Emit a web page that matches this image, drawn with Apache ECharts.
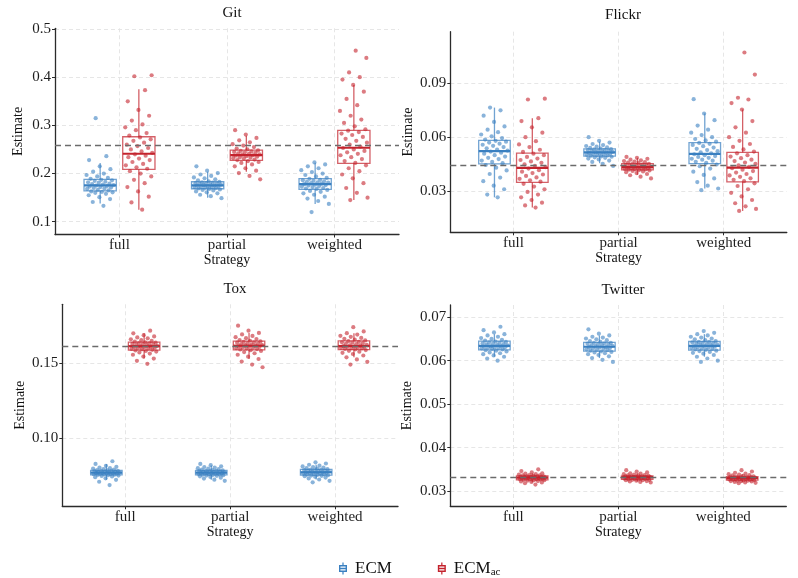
<!DOCTYPE html>
<html>
<head>
<meta charset="utf-8">
<title>ECM estimates by strategy</title>
<script src="https://cdn.jsdelivr.net/npm/echarts@6.0.0/dist/echarts.min.js"></script>
<style>
  html, body { margin: 0; padding: 0; background: #fff; }
  #chart { width: 798px; height: 578px; }
</style>
</head>
<body>
<div id="chart"></div>
<script>
// ---- data ----
const strategies = ["full", "partial", "weighted"];
const refLines = [0.2585, 0.0442, 0.1613, 0.0331]; // Git, Flickr, Tox, Twitter

const gitTicks = [0.1, 0.2, 0.3, 0.4, 0.5];
const flickrTicks = [0.03, 0.06, 0.09];
const toxTicks = [0.1, 0.15];
const twitterTicks = [0.03, 0.04, 0.05, 0.06, 0.07];

// box stats: [lower whisker, Q1, median, Q3, upper whisker] per strategy
const gitEcmBox = [[0.138, 0.164, 0.1755, 0.188, 0.222], [0.150, 0.1685, 0.1755, 0.183, 0.204], [0.137, 0.1672, 0.1782, 0.1893, 0.2225]];
const gitAcBox = [[0.125, 0.2088, 0.2411, 0.2764, 0.375], [0.204, 0.2274, 0.2384, 0.2488, 0.2785], [0.145, 0.2212, 0.2536, 0.2897, 0.384]];
const flickrEcmBox = [[0.0265, 0.0451, 0.0522, 0.0582, 0.0765], [0.0455, 0.0494, 0.0515, 0.0535, 0.0575], [0.0314, 0.0453, 0.0507, 0.057, 0.0732]];
const flickrAcBox = [[0.0208, 0.0348, 0.0429, 0.0511, 0.0706], [0.0390, 0.0418, 0.0433, 0.0453, 0.0485], [0.0189, 0.0351, 0.0431, 0.0515, 0.0754]];
const toxEcmBox = [[0.0725, 0.0758, 0.0772, 0.0788, 0.0830], [0.0725, 0.0758, 0.0772, 0.0788, 0.0820], [0.0727, 0.0756, 0.0775, 0.0794, 0.0825]];
const toxAcBox = [[0.1530, 0.1586, 0.1612, 0.1639, 0.1697], [0.1527, 0.1588, 0.1615, 0.1645, 0.1700], [0.1538, 0.1589, 0.1613, 0.1647, 0.1698]];
const twitterEcmBox = [[0.0609, 0.0625, 0.0634, 0.0645, 0.0661], [0.0606, 0.0622, 0.0632, 0.0642, 0.0658], [0.0609, 0.0624, 0.0634, 0.0644, 0.0661]];
const twitterAcBox = [[0.0320, 0.0326, 0.0331, 0.0335, 0.0341], [0.0322, 0.0327, 0.0332, 0.0335, 0.0341], [0.0320, 0.0325, 0.0330, 0.0333, 0.0339]];

// jittered estimates
const gitEcmFull = [0.133, 0.141, 0.147, 0.151, 0.155, 0.158, 0.160, 0.161, 0.162, 0.163, 0.165, 0.166, 0.168, 0.169, 0.170, 0.171, 0.172, 0.173, 0.174, 0.175, 0.176, 0.177, 0.178, 0.179, 0.181, 0.182, 0.183, 0.185, 0.186, 0.187, 0.189, 0.191, 0.194, 0.197, 0.200, 0.204, 0.209, 0.215, 0.228, 0.236, 0.315];
const gitEcmPartial = [0.149, 0.153, 0.156, 0.159, 0.161, 0.163, 0.165, 0.166, 0.167, 0.168, 0.169, 0.170, 0.171, 0.172, 0.172, 0.173, 0.174, 0.174, 0.175, 0.175, 0.176, 0.177, 0.177, 0.178, 0.179, 0.180, 0.180, 0.181, 0.182, 0.183, 0.184, 0.186, 0.188, 0.190, 0.192, 0.195, 0.198, 0.201, 0.206, 0.215];
const gitEcmWeighted = [0.120, 0.137, 0.143, 0.148, 0.152, 0.156, 0.159, 0.162, 0.164, 0.166, 0.168, 0.169, 0.170, 0.172, 0.173, 0.174, 0.175, 0.176, 0.177, 0.178, 0.179, 0.180, 0.181, 0.182, 0.183, 0.184, 0.185, 0.186, 0.187, 0.189, 0.191, 0.194, 0.197, 0.200, 0.203, 0.207, 0.211, 0.215, 0.219, 0.223];
const gitAcFull = [0.125, 0.140, 0.152, 0.163, 0.172, 0.180, 0.187, 0.194, 0.200, 0.205, 0.210, 0.213, 0.217, 0.220, 0.224, 0.228, 0.231, 0.234, 0.237, 0.240, 0.243, 0.246, 0.250, 0.253, 0.257, 0.260, 0.264, 0.268, 0.271, 0.275, 0.279, 0.284, 0.290, 0.296, 0.302, 0.310, 0.320, 0.332, 0.350, 0.373, 0.402, 0.404];
const gitAcPartial = [0.188, 0.195, 0.201, 0.206, 0.211, 0.215, 0.219, 0.222, 0.224, 0.226, 0.228, 0.229, 0.231, 0.232, 0.233, 0.234, 0.235, 0.236, 0.237, 0.238, 0.239, 0.240, 0.241, 0.242, 0.243, 0.244, 0.245, 0.246, 0.247, 0.248, 0.250, 0.252, 0.255, 0.258, 0.261, 0.265, 0.269, 0.274, 0.281, 0.290];
const gitAcWeighted = [0.145, 0.150, 0.160, 0.170, 0.180, 0.190, 0.198, 0.205, 0.211, 0.217, 0.222, 0.226, 0.230, 0.234, 0.238, 0.241, 0.244, 0.247, 0.250, 0.253, 0.256, 0.260, 0.264, 0.268, 0.272, 0.276, 0.280, 0.283, 0.286, 0.289, 0.292, 0.298, 0.305, 0.312, 0.320, 0.330, 0.342, 0.355, 0.370, 0.384, 0.395, 0.400, 0.410, 0.440, 0.455];

const flickrEcmFull = [0.0265, 0.0280, 0.0310, 0.0330, 0.0355, 0.0375, 0.0395, 0.0415, 0.0430, 0.0445, 0.0455, 0.0462, 0.0470, 0.0478, 0.0485, 0.0492, 0.0500, 0.0508, 0.0514, 0.0520, 0.0525, 0.0531, 0.0538, 0.0545, 0.0552, 0.0558, 0.0564, 0.0570, 0.0575, 0.0580, 0.0587, 0.0595, 0.0605, 0.0615, 0.0628, 0.0642, 0.0660, 0.0685, 0.0720, 0.0750, 0.0765];
const flickrEcmPartial = [0.0440, 0.0452, 0.0462, 0.0470, 0.0476, 0.0481, 0.0485, 0.0488, 0.0491, 0.0493, 0.0496, 0.0498, 0.0500, 0.0502, 0.0504, 0.0506, 0.0508, 0.0510, 0.0512, 0.0514, 0.0516, 0.0518, 0.0520, 0.0522, 0.0524, 0.0526, 0.0528, 0.0530, 0.0532, 0.0534, 0.0537, 0.0540, 0.0543, 0.0547, 0.0551, 0.0556, 0.0562, 0.0570, 0.0580, 0.0600];
const flickrEcmWeighted = [0.0305, 0.0314, 0.0330, 0.0350, 0.0370, 0.0390, 0.0408, 0.0425, 0.0438, 0.0448, 0.0457, 0.0463, 0.0469, 0.0475, 0.0480, 0.0485, 0.0490, 0.0495, 0.0500, 0.0505, 0.0510, 0.0516, 0.0522, 0.0528, 0.0535, 0.0542, 0.0550, 0.0557, 0.0563, 0.0568, 0.0575, 0.0582, 0.0590, 0.0600, 0.0612, 0.0625, 0.0642, 0.0665, 0.0695, 0.0732, 0.0812];
const flickrAcFull = [0.0208, 0.0220, 0.0235, 0.0250, 0.0265, 0.0280, 0.0295, 0.0310, 0.0325, 0.0340, 0.0352, 0.0360, 0.0368, 0.0376, 0.0384, 0.0392, 0.0400, 0.0408, 0.0416, 0.0425, 0.0433, 0.0441, 0.0449, 0.0457, 0.0465, 0.0473, 0.0481, 0.0490, 0.0500, 0.0508, 0.0518, 0.0530, 0.0545, 0.0560, 0.0578, 0.0600, 0.0625, 0.0655, 0.0690, 0.0706, 0.0810, 0.0815];
const flickrAcPartial = [0.0370, 0.0380, 0.0388, 0.0395, 0.0400, 0.0405, 0.0409, 0.0412, 0.0415, 0.0417, 0.0419, 0.0420, 0.0422, 0.0424, 0.0425, 0.0427, 0.0428, 0.0430, 0.0431, 0.0432, 0.0434, 0.0436, 0.0438, 0.0440, 0.0442, 0.0444, 0.0446, 0.0448, 0.0450, 0.0452, 0.0455, 0.0458, 0.0461, 0.0464, 0.0467, 0.0471, 0.0475, 0.0480, 0.0485, 0.0490];
const flickrAcWeighted = [0.0189, 0.0200, 0.0215, 0.0232, 0.0250, 0.0270, 0.0290, 0.0310, 0.0328, 0.0343, 0.0355, 0.0363, 0.0371, 0.0379, 0.0387, 0.0395, 0.0403, 0.0411, 0.0419, 0.0427, 0.0435, 0.0443, 0.0451, 0.0459, 0.0467, 0.0475, 0.0483, 0.0492, 0.0500, 0.0510, 0.0520, 0.0532, 0.0546, 0.0562, 0.0580, 0.0600, 0.0625, 0.0655, 0.0690, 0.0754, 0.0790, 0.0810, 0.0820, 0.0949, 0.1072];

const toxEcmFull = [0.0690, 0.0712, 0.0725, 0.0735, 0.0742, 0.0747, 0.0750, 0.0753, 0.0755, 0.0757, 0.0759, 0.0761, 0.0762, 0.0764, 0.0765, 0.0767, 0.0768, 0.0769, 0.0770, 0.0771, 0.0773, 0.0775, 0.0776, 0.0778, 0.0779, 0.0781, 0.0782, 0.0784, 0.0785, 0.0787, 0.0790, 0.0793, 0.0796, 0.0799, 0.0802, 0.0806, 0.0811, 0.0818, 0.0830, 0.0848];
const toxEcmPartial = [0.0718, 0.0726, 0.0733, 0.0739, 0.0744, 0.0748, 0.0751, 0.0753, 0.0755, 0.0757, 0.0759, 0.0761, 0.0762, 0.0764, 0.0765, 0.0767, 0.0768, 0.0769, 0.0770, 0.0771, 0.0773, 0.0775, 0.0776, 0.0778, 0.0779, 0.0781, 0.0782, 0.0784, 0.0785, 0.0787, 0.0790, 0.0793, 0.0796, 0.0799, 0.0802, 0.0806, 0.0810, 0.0815, 0.0822, 0.0830];
const toxEcmWeighted = [0.0708, 0.0718, 0.0727, 0.0734, 0.0740, 0.0745, 0.0749, 0.0751, 0.0753, 0.0755, 0.0758, 0.0760, 0.0762, 0.0764, 0.0766, 0.0768, 0.0770, 0.0771, 0.0773, 0.0774, 0.0776, 0.0778, 0.0780, 0.0782, 0.0784, 0.0786, 0.0788, 0.0790, 0.0791, 0.0793, 0.0796, 0.0799, 0.0802, 0.0806, 0.0810, 0.0814, 0.0819, 0.0825, 0.0833, 0.0841];
const toxAcFull = [0.1495, 0.1515, 0.1530, 0.1543, 0.1555, 0.1563, 0.1570, 0.1576, 0.1580, 0.1584, 0.1588, 0.1591, 0.1594, 0.1597, 0.1600, 0.1602, 0.1605, 0.1607, 0.1609, 0.1611, 0.1614, 0.1617, 0.1619, 0.1622, 0.1625, 0.1627, 0.1630, 0.1633, 0.1635, 0.1638, 0.1642, 0.1647, 0.1652, 0.1658, 0.1664, 0.1670, 0.1677, 0.1685, 0.1697, 0.1715];
const toxAcPartial = [0.1472, 0.1490, 0.1510, 0.1527, 0.1542, 0.1555, 0.1565, 0.1573, 0.1580, 0.1585, 0.1590, 0.1593, 0.1596, 0.1599, 0.1602, 0.1605, 0.1607, 0.1609, 0.1611, 0.1614, 0.1617, 0.1620, 0.1623, 0.1626, 0.1629, 0.1632, 0.1635, 0.1638, 0.1641, 0.1644, 0.1648, 0.1653, 0.1659, 0.1665, 0.1672, 0.1680, 0.1690, 0.1700, 0.1715, 0.1748];
const toxAcWeighted = [0.1490, 0.1508, 0.1524, 0.1538, 0.1550, 0.1560, 0.1568, 0.1575, 0.1581, 0.1586, 0.1591, 0.1594, 0.1597, 0.1599, 0.1602, 0.1604, 0.1606, 0.1608, 0.1610, 0.1612, 0.1615, 0.1618, 0.1621, 0.1625, 0.1628, 0.1632, 0.1635, 0.1638, 0.1641, 0.1645, 0.1650, 0.1655, 0.1661, 0.1667, 0.1674, 0.1681, 0.1689, 0.1698, 0.1710, 0.1738];

const twitterEcmFull = [0.0600, 0.0605, 0.0609, 0.0612, 0.0615, 0.0617, 0.0619, 0.0621, 0.0623, 0.0624, 0.0626, 0.0627, 0.0628, 0.0629, 0.0630, 0.0631, 0.0631, 0.0632, 0.0633, 0.0633, 0.0635, 0.0636, 0.0637, 0.0638, 0.0639, 0.0640, 0.0641, 0.0642, 0.0643, 0.0644, 0.0646, 0.0648, 0.0650, 0.0652, 0.0655, 0.0658, 0.0661, 0.0665, 0.0670, 0.0678];
const twitterEcmPartial = [0.0597, 0.0602, 0.0606, 0.0610, 0.0613, 0.0615, 0.0617, 0.0619, 0.0620, 0.0621, 0.0623, 0.0624, 0.0625, 0.0626, 0.0627, 0.0628, 0.0629, 0.0630, 0.0631, 0.0631, 0.0633, 0.0634, 0.0635, 0.0636, 0.0637, 0.0638, 0.0639, 0.0640, 0.0641, 0.0641, 0.0643, 0.0645, 0.0647, 0.0649, 0.0651, 0.0653, 0.0655, 0.0658, 0.0662, 0.0672];
const twitterEcmWeighted = [0.0597, 0.0600, 0.0605, 0.0609, 0.0613, 0.0616, 0.0618, 0.0620, 0.0622, 0.0623, 0.0625, 0.0626, 0.0627, 0.0628, 0.0629, 0.0630, 0.0631, 0.0632, 0.0633, 0.0633, 0.0635, 0.0636, 0.0637, 0.0638, 0.0639, 0.0640, 0.0641, 0.0642, 0.0643, 0.0643, 0.0645, 0.0647, 0.0649, 0.0651, 0.0653, 0.0655, 0.0658, 0.0661, 0.0664, 0.0668];
const twitterAcFull = [0.0315, 0.0318, 0.0320, 0.0321, 0.0322, 0.0323, 0.0324, 0.0325, 0.0325, 0.0326, 0.0327, 0.0327, 0.0328, 0.0328, 0.0329, 0.0329, 0.0330, 0.0330, 0.0330, 0.0331, 0.0331, 0.0332, 0.0332, 0.0332, 0.0333, 0.0333, 0.0334, 0.0334, 0.0334, 0.0335, 0.0336, 0.0336, 0.0337, 0.0338, 0.0339, 0.0340, 0.0341, 0.0343, 0.0346, 0.0350];
const twitterAcPartial = [0.0320, 0.0321, 0.0322, 0.0323, 0.0324, 0.0325, 0.0325, 0.0326, 0.0326, 0.0327, 0.0327, 0.0328, 0.0328, 0.0329, 0.0329, 0.0330, 0.0330, 0.0331, 0.0331, 0.0331, 0.0332, 0.0332, 0.0332, 0.0333, 0.0333, 0.0333, 0.0334, 0.0334, 0.0334, 0.0335, 0.0336, 0.0336, 0.0337, 0.0338, 0.0339, 0.0340, 0.0341, 0.0343, 0.0345, 0.0348];
const twitterAcWeighted = [0.0318, 0.0319, 0.0320, 0.0321, 0.0322, 0.0323, 0.0323, 0.0324, 0.0324, 0.0325, 0.0325, 0.0326, 0.0326, 0.0327, 0.0327, 0.0328, 0.0328, 0.0329, 0.0329, 0.0330, 0.0330, 0.0331, 0.0331, 0.0331, 0.0332, 0.0332, 0.0332, 0.0333, 0.0333, 0.0333, 0.0334, 0.0335, 0.0336, 0.0337, 0.0338, 0.0339, 0.0340, 0.0342, 0.0345, 0.0348];

// ---- styling / layout ----
const SERIF = "'Liberation Serif', 'DejaVu Serif', serif";
const BLUE = "#3a80c1";
const RED = "#c4232d";
const AXIS_COLOR = "#2b2b2b";
const GRID_COLOR = "#e3e3e3";
const DODGE = 0.18;      // offset of each group from the strategy centre (x units)
const BOX_HALF = 0.15;   // half box width
const JITTER = 0.13;     // half jitter width

const panels = [
  { title: "Git", left: 55, top: 28.3, width: 344, height: 206.2, yMin: 0.0735, yMax: 0.5015, ticks: gitTicks, digits: 1, yGap: 30, xGap: 18, titleX: 227, titleY: 1,
    ecm: [gitEcmFull, gitEcmPartial, gitEcmWeighted], ac: [gitAcFull, gitAcPartial, gitAcWeighted], ecmBox: gitEcmBox, acBox: gitAcBox, ref: refLines[0] },
  { title: "Flickr", left: 450.3, top: 31.7, width: 336.5, height: 200.6, yMin: 0.007, yMax: 0.1188, ticks: flickrTicks, digits: 2, yGap: 35, xGap: 19, titleX: 618, titleY: 3,
    ecm: [flickrEcmFull, flickrEcmPartial, flickrEcmWeighted], ac: [flickrAcFull, flickrAcPartial, flickrAcWeighted], ecmBox: flickrEcmBox, acBox: flickrAcBox, ref: refLines[1] },
  { title: "Tox", left: 62.3, top: 304.3, width: 335.7, height: 202, yMin: 0.0549, yMax: 0.189, ticks: toxTicks, digits: 2, yGap: 35, xGap: 19.5, titleX: 230, titleY: 277,
    ecm: [toxEcmFull, toxEcmPartial, toxEcmWeighted], ac: [toxAcFull, toxAcPartial, toxAcWeighted], ecmBox: toxEcmBox, acBox: toxAcBox, ref: refLines[2] },
  { title: "Twitter", left: 450.3, top: 305, width: 336, height: 201.3, yMin: 0.0265, yMax: 0.0728, ticks: twitterTicks, digits: 2, yGap: 36, xGap: 19.5, titleX: 618, titleY: 277.5,
    ecm: [twitterEcmFull, twitterEcmPartial, twitterEcmWeighted], ac: [twitterAcFull, twitterAcPartial, twitterAcWeighted], ecmBox: twitterEcmBox, acBox: twitterAcBox, ref: refLines[3] }
];

// legend glyph: a small box-and-whisker made of filled bars
const BOX_ICON = "path://M3.4 0h1.2v2.5h-1.2z M0 2.5h8v1.4h-8z M0 8.1h8v1.4h-8z M0 2.5h1.4v7h-1.4z M6.6 2.5h1.4v7h-1.4z M0 5.3h8v1.4h-8z M3.4 9.5h1.2v2.5h-1.2z";

function makeBoxRenderer(color) {
  return (params, api) => {
    const x = api.value(0);
    const cx = api.coord([x, api.value(3)])[0];
    const xl = api.coord([x - BOX_HALF, api.value(3)])[0];
    const xr = api.coord([x + BOX_HALF, api.value(3)])[0];
    const yLo = api.coord([x, api.value(1)])[1];
    const yQ1 = api.coord([x, api.value(2)])[1];
    const yMed = api.coord([x, api.value(3)])[1];
    const yQ3 = api.coord([x, api.value(4)])[1];
    const yHi = api.coord([x, api.value(5)])[1];
    const thin = { stroke: color, lineWidth: 1.3, opacity: 0.72, fill: null };
    return {
      type: "group",
      children: [
        { type: "line", shape: { x1: cx, y1: yHi, x2: cx, y2: yQ3 }, style: thin },
        { type: "line", shape: { x1: cx, y1: yQ1, x2: cx, y2: yLo }, style: thin },
        { type: "rect", shape: { x: xl, y: yQ3, width: xr - xl, height: yQ1 - yQ3 }, style: thin },
        { type: "line", shape: { x1: xl, y1: yMed, x2: xr, y2: yMed }, style: { stroke: color, lineWidth: 2.2 } }
      ]
    };
  };
}

function jitter(i, s) {
  return (((i + 1) * 0.6180339 + s * 0.377) % 1 - 0.5) * 2 * JITTER;
}

const grids = [], xAxes = [], yAxes = [], series = [], titles = [];
const axisTextStyle = { fontFamily: SERIF, fontSize: 15, color: "#1e1e1e" };

panels.forEach((p, k) => {
  grids.push({ left: p.left, top: p.top, width: p.width, height: p.height });
  titles.push({ text: p.title, left: p.titleX, top: p.titleY, textAlign: "center",
    textStyle: { fontFamily: SERIF, fontSize: 15, fontWeight: "normal", color: "#111" } });

  xAxes.push({
    gridIndex: k, type: "value", min: 0.4, max: 3.6,
    name: "Strategy", nameLocation: "middle", nameGap: p.xGap,
    nameTextStyle: { fontFamily: SERIF, fontSize: 14, color: "#111" },
    axisLine: { show: true, onZero: false, lineStyle: { color: AXIS_COLOR, width: 1.3 } },
    axisTick: { show: true, length: 3, customValues: [1, 2, 3], lineStyle: { color: AXIS_COLOR } },
    axisLabel: Object.assign({ customValues: [1, 2, 3], margin: 3, formatter: v => strategies[Math.round(v) - 1] }, axisTextStyle),
    splitLine: { show: true, lineStyle: { color: GRID_COLOR, type: [4, 3], width: 0.9 } }
  });
  yAxes.push({
    gridIndex: k, type: "value", min: p.yMin, max: p.yMax,
    name: "Estimate", nameLocation: "middle", nameRotate: 90, nameGap: p.yGap,
    nameTextStyle: { fontFamily: SERIF, fontSize: 14, color: "#111" },
    axisLine: { show: true, onZero: false, lineStyle: { color: AXIS_COLOR, width: 1.3 } },
    axisTick: { show: true, length: 3, customValues: p.ticks, lineStyle: { color: AXIS_COLOR } },
    axisLabel: Object.assign({ customValues: p.ticks, margin: 4, formatter: v => v.toFixed(p.digits) }, axisTextStyle),
    splitLine: { show: true, lineStyle: { color: GRID_COLOR, type: [4, 3], width: 0.9 } }
  });

  const groups = [
    { name: "ECM", color: BLUE, values: p.ecm, box: p.ecmBox, shift: -DODGE },
    { name: "ECM_ac", color: RED, values: p.ac, box: p.acBox, shift: DODGE }
  ];
  groups.forEach((g, gi) => {
    series.push({
      name: g.name, type: "custom", xAxisIndex: k, yAxisIndex: k, z: 2, silent: true,
      itemStyle: { color: g.color },
      renderItem: makeBoxRenderer(g.color),
      encode: { x: 0, y: [1, 2, 3, 4, 5] },
      data: g.box.map((b, s) => [s + 1 + g.shift].concat(b)),
      markLine: gi === 1 ? {
        silent: true, symbol: "none", z: 4, precision: 5,
        label: { show: false },
        lineStyle: { color: "#6b6b6b", type: [6, 4], width: 1.3 },
        data: [{ yAxis: p.ref }]
      } : undefined
    });
  });
  groups.forEach(g => {
    const pts = [];
    g.values.forEach((arr, s) => arr.forEach((v, i) => pts.push([s + 1 + g.shift + jitter(i, s), v])));
    series.push({
      name: g.name, type: "scatter", xAxisIndex: k, yAxisIndex: k, z: 3, silent: true,
      symbolSize: 4.2,
      itemStyle: { color: g.color, opacity: 0.6 },
      data: pts
    });
  });
});

const chart = echarts.init(document.getElementById("chart"), null, { renderer: "canvas" });
chart.setOption({
  animation: false,
  backgroundColor: "#fff",
  title: titles,
  grid: grids,
  xAxis: xAxes,
  yAxis: yAxes,
  legend: {
    left: 334, top: 555,
    itemWidth: 8, itemHeight: 12, itemGap: 46,
    selectedMode: false,
    data: [
      { name: "ECM", icon: BOX_ICON, itemStyle: { color: BLUE, opacity: 1 } },
      { name: "ECM_ac", icon: BOX_ICON, itemStyle: { color: RED, opacity: 1 } }
    ],
    formatter: name => name === "ECM_ac" ? "{m|ECM}{s|ac}" : "{m|ECM}",
    textStyle: {
      padding: [0, 0, 0, 3],
      rich: {
        m: { fontFamily: SERIF, fontSize: 17, color: "#111", lineHeight: 18 },
        s: { fontFamily: SERIF, fontSize: 11, color: "#111", lineHeight: 9, verticalAlign: "bottom" }
      }
    }
  },
  series: series
});
</script>
</body>
</html>
